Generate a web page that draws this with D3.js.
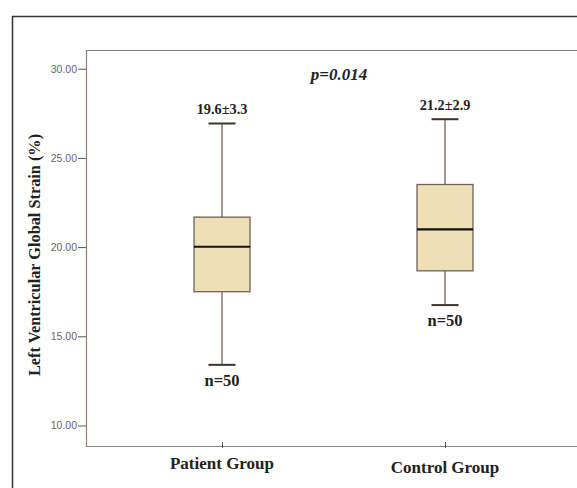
<!DOCTYPE html>
<html><head><meta charset="utf-8">
<script src="https://cdn.jsdelivr.net/npm/d3@7"></script>
<style>body{margin:0;background:#fff}svg{display:block}</style>
</head><body>
<script>
const categories = ["Patient Group", "Control Group"];
const whiskerLow = [13.4, 16.75];
const q1 = [17.5, 18.67];
const median = [20.02, 20.99];
const q3 = [21.68, 23.51];
const whiskerHigh = [26.93, 27.17];
const meanSd = ["19.6\u00b13.3", "21.2\u00b12.9"];
const nLabels = ["n=50", "n=50"];
const yTicks = [10, 15, 20, 25, 30];
const pText = "p=0.014";

(function(){
const W = 577, H = 488;
const svg = d3.select("body").append("svg").attr("width", W).attr("height", H);

// outer frame
svg.append("path").attr("d", "M12.5,490 V16.5 H580").attr("fill", "none").attr("stroke", "#333").attr("stroke-width", 1.5);

const pLeft = 86, pTop = 50, pBottom = 446, pRight = 590;
const y = d3.scaleLinear().domain([8.85, 31.05]).range([pBottom, pTop]);
const x = d3.scalePoint().domain(categories).range([222, 445]);

// plot border
svg.append("path").attr("d", `M${pRight},${pTop+0.5} H${pLeft+0.5} V${pBottom+0.5} H${pRight}`)
  .attr("fill", "none").attr("stroke", "#8a827b").attr("stroke-width", 1.2);

// y axis
const yAxis = d3.axisLeft(y).tickValues(yTicks).tickFormat(d3.format(".2f")).tickSize(8).tickPadding(1);
const gy = svg.append("g").attr("transform", `translate(${pLeft},0)`).call(yAxis);
gy.select(".domain").remove();
gy.selectAll(".tick line").attr("stroke", "#555");
gy.selectAll(".tick text").attr("fill", "#666").attr("font-family", "Liberation Sans, Arial, sans-serif").attr("font-size", 10.5);

// x axis
const xAxis = d3.axisBottom(x).tickSize(6).tickFormat("");
const gx = svg.append("g").attr("transform", `translate(0,${pBottom})`).call(xAxis);
gx.select(".domain").remove();
gx.selectAll(".tick line").attr("stroke", "#555").attr("y1", -4).attr("y2", 2);

const xLabelDy = [469, 473];
svg.selectAll(".xl").data(categories).enter().append("text")
  .attr("x", d => x(d)).attr("y", (d, i) => xLabelDy[i])
  .attr("text-anchor", "middle").attr("font-family", "Liberation Serif, Times New Roman, serif")
  .attr("font-weight", "bold").attr("font-size", 17).attr("fill", "#222").text(d => d);

// y label
svg.append("text").attr("transform", "translate(40,255) rotate(-90)")
  .attr("text-anchor", "middle").attr("font-family", "Liberation Serif, Times New Roman, serif")
  .attr("font-weight", "bold").attr("font-size", 16.3).attr("fill", "#222")
  .text("Left Ventricular Global Strain (%)");

// boxes
const boxW = 56, capW = 27;
const stroke = "#6e625a";
categories.forEach((c, i) => {
  const cx = x(c);
  const g = svg.append("g");
  g.append("line").attr("x1", cx).attr("x2", cx).attr("y1", y(whiskerHigh[i])).attr("y2", y(q3[i])).attr("stroke", stroke).attr("stroke-width", 1.3);
  g.append("line").attr("x1", cx).attr("x2", cx).attr("y1", y(q1[i])).attr("y2", y(whiskerLow[i])).attr("stroke", stroke).attr("stroke-width", 1.3);
  g.append("line").attr("x1", cx - capW/2).attr("x2", cx + capW/2).attr("y1", y(whiskerHigh[i])).attr("y2", y(whiskerHigh[i])).attr("stroke", "#3a332e").attr("stroke-width", 2);
  g.append("line").attr("x1", cx - capW/2).attr("x2", cx + capW/2).attr("y1", y(whiskerLow[i])).attr("y2", y(whiskerLow[i])).attr("stroke", "#3a332e").attr("stroke-width", 2);
  g.append("rect").attr("x", cx - boxW/2).attr("width", boxW).attr("y", y(q3[i])).attr("height", y(q1[i]) - y(q3[i]))
    .attr("fill", "#efdfb6").attr("stroke", stroke).attr("stroke-width", 1.3);
  g.append("line").attr("x1", cx - boxW/2).attr("x2", cx + boxW/2).attr("y1", y(median[i])).attr("y2", y(median[i])).attr("stroke", "#111").attr("stroke-width", 2.2);
  g.append("text").attr("x", cx).attr("y", y(whiskerHigh[i]) - 9).attr("text-anchor", "middle")
    .attr("font-family", "Liberation Serif, Times New Roman, serif").attr("font-weight", "bold").attr("font-size", 14.3).attr("fill", "#222").text(meanSd[i]);
  g.append("text").attr("x", cx).attr("y", y(whiskerLow[i]) + 21).attr("text-anchor", "middle")
    .attr("font-family", "Liberation Serif, Times New Roman, serif").attr("font-weight", "bold").attr("font-size", 16.5).attr("fill", "#222").text(nLabels[i]);
});

svg.append("text").attr("x", 339).attr("y", 80).attr("text-anchor", "middle")
  .attr("font-family", "Liberation Serif, Times New Roman, serif").attr("font-weight", "bold").attr("font-style", "italic")
  .attr("font-size", 17).attr("fill", "#222").text(pText);
})();
</script>
</body></html>
